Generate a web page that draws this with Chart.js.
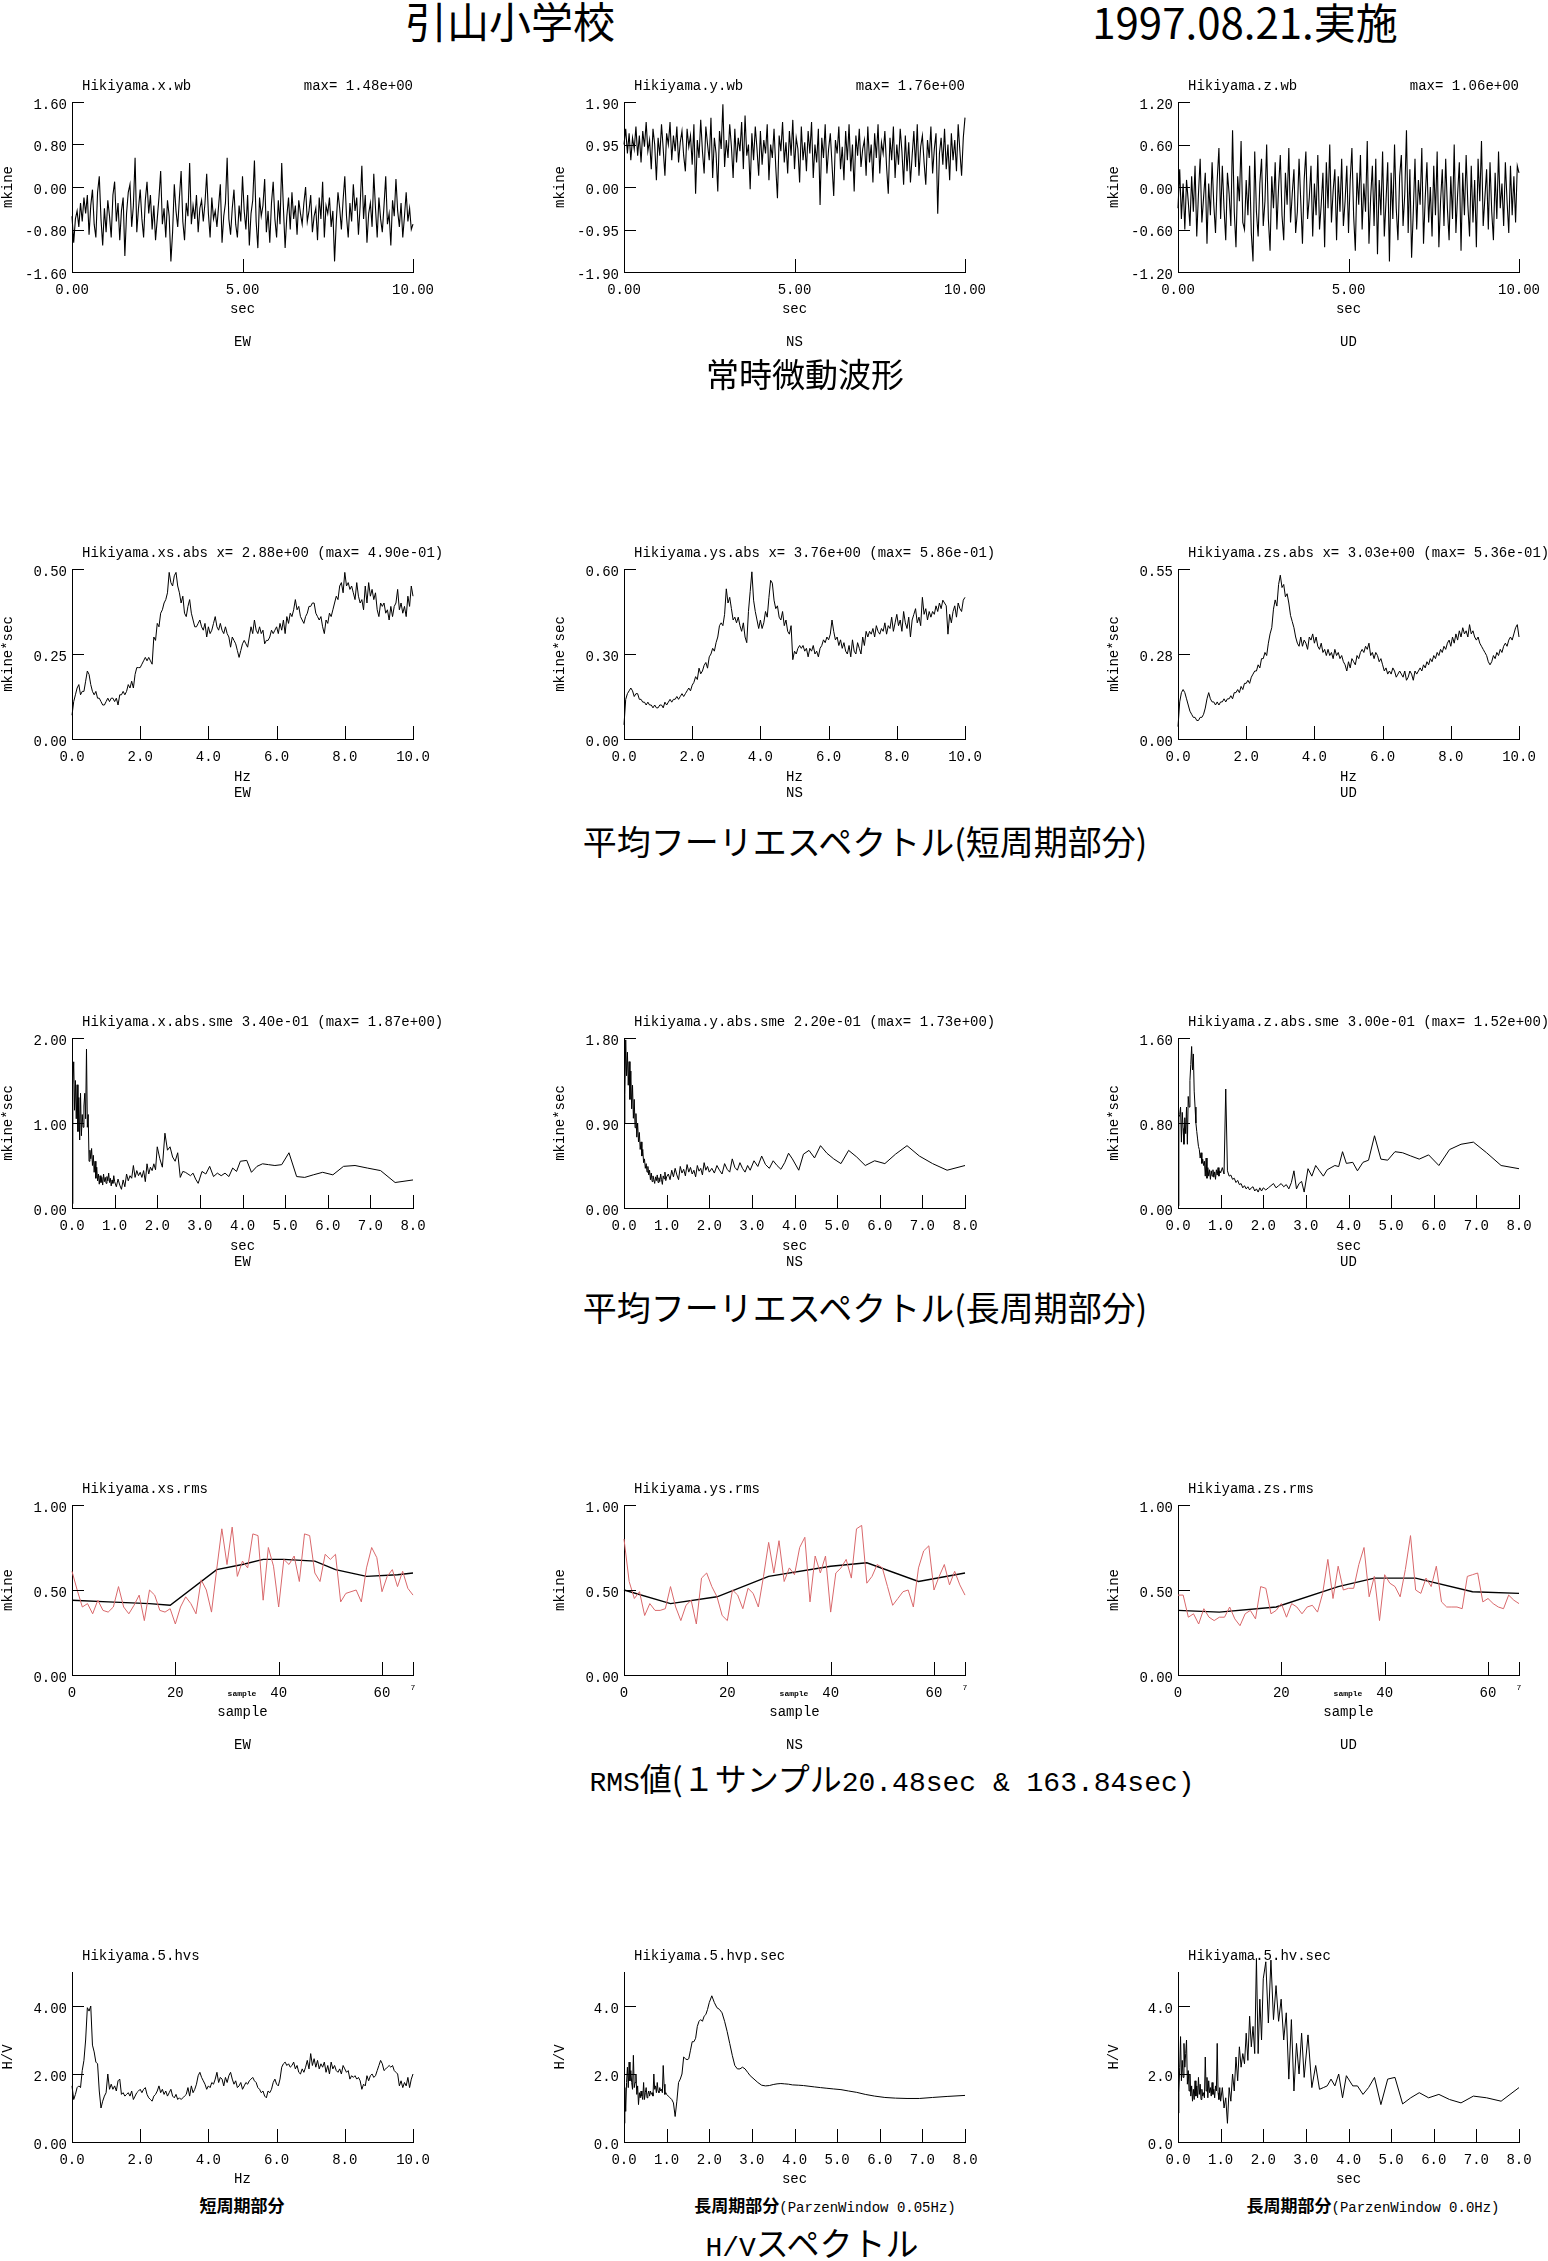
<!DOCTYPE html>
<html><head><meta charset="utf-8">
<script src="https://cdn.jsdelivr.net/npm/chart.js@4.4.1/dist/chart.umd.min.js"></script>
<style>
html,body{margin:0;padding:0;background:#fff;overflow:hidden;}
body{width:1548px;height:2261px;position:relative;}
canvas{position:absolute;}
.t{position:absolute;white-space:nowrap;color:#000;line-height:1;}
</style></head><body>
<script>
// ---------------- DATA ----------------
const WAVE_DT = 0.05;
const WAVE_EW = [
-0.55,-1.05,-0.60,-0.45,-0.75,-0.30,-0.65,-0.20,-0.50,-0.15,
-0.90,-0.35,-0.05,-0.70,-0.95,-0.10,0.20,-0.60,-1.10,-0.40,
-0.85,-0.25,-0.55,-0.95,-0.15,0.10,-0.65,-0.30,-1.00,-0.45,
-0.20,-1.30,-0.50,-0.10,0.05,-0.75,-0.35,0.55,-0.85,-0.40,
-0.05,-0.60,-0.95,-0.25,0.10,-0.50,-0.15,-0.80,-0.35,-1.00,
-0.60,-0.20,0.30,-0.70,-0.40,-0.95,-0.25,-0.55,-1.40,-0.85,
0.05,-0.45,-0.75,-0.20,0.30,-0.65,-1.00,-0.30,-0.55,0.45,
-0.70,-0.35,-0.60,-0.15,-0.85,-0.40,-0.25,-0.65,-0.30,0.25,
-0.50,-0.95,-0.20,-0.60,-0.45,-0.75,-0.35,0.05,-1.05,-0.55,
-0.30,0.55,-0.60,-0.90,-0.40,-0.05,-0.70,-0.95,-0.35,-0.65,
0.20,-0.45,-0.80,-0.15,-1.10,-0.50,-0.25,0.50,-0.65,-1.15,
-0.20,-0.55,-0.35,0.15,-0.85,-0.45,-1.05,-0.30,0.10,-0.60,
-0.95,-0.25,-0.70,0.45,-0.40,-1.15,-0.55,-0.20,-0.80,-0.10,
-0.60,-0.35,-0.90,-0.25,-0.50,-0.70,-0.30,0.00,-0.65,-0.45,
-0.15,-0.85,-0.55,-0.40,-1.00,-0.20,-0.60,0.10,-0.95,-0.35,
-0.50,-0.20,-0.75,-0.45,-1.40,-0.65,-0.10,-0.40,-0.80,-0.25,
0.20,-0.55,-0.95,-0.30,-0.65,0.05,-0.45,-0.20,-0.90,-0.35,
0.40,-0.60,-0.15,-1.05,-0.50,-0.30,-0.75,0.25,-0.40,-0.95,
-0.20,-0.60,-0.85,-0.35,0.20,-0.70,-0.50,-1.10,-0.25,-0.55,
0.15,-0.45,-0.75,-0.30,-0.95,-0.55,-0.10,-0.65,-0.40,-0.80,
-0.70];
const WAVE_NS = [
0.95,1.30,0.75,1.20,0.60,1.10,0.85,1.35,0.70,1.15,
0.55,1.25,0.90,1.45,0.80,1.05,0.40,1.30,0.95,0.15,
1.10,0.70,1.40,0.85,0.25,1.20,0.95,1.45,0.60,1.15,
0.80,1.35,0.55,1.00,1.25,0.70,0.35,1.30,0.90,1.15,
0.50,1.40,-0.15,1.05,0.65,1.50,0.80,0.30,1.35,0.95,
0.60,1.55,0.20,1.10,0.75,-0.10,1.25,0.85,1.85,0.45,
1.05,0.65,1.40,0.90,0.20,1.30,0.55,1.10,0.80,1.45,
0.40,1.60,0.70,0.95,-0.05,1.20,0.60,1.35,0.85,0.25,
1.25,0.50,1.05,0.75,1.40,0.15,0.95,0.65,1.30,0.45,
-0.25,1.15,0.80,1.45,0.55,1.00,0.30,1.25,0.70,1.50,
0.40,1.10,0.85,0.10,1.35,0.60,1.00,0.35,1.25,0.75,
1.45,0.20,0.95,0.55,1.30,-0.40,1.10,0.65,1.40,0.30,
0.85,1.20,0.50,-0.20,1.05,0.75,1.35,0.40,0.90,0.15,
1.25,0.60,1.40,0.35,0.95,-0.10,1.15,0.70,1.30,0.45,
0.85,1.05,0.25,1.35,0.55,0.95,0.10,1.20,0.65,1.40,
0.30,1.00,0.75,1.25,0.45,-0.15,1.10,0.60,1.35,0.20,
0.95,0.50,1.30,0.80,0.05,1.15,0.35,1.00,0.10,0.70,
1.25,0.45,1.40,0.25,0.90,1.15,0.55,0.05,1.05,0.65,
1.35,0.30,0.85,1.20,-0.60,0.75,1.10,0.50,1.30,0.40,
0.95,0.15,1.20,0.60,1.05,0.35,1.40,0.80,0.25,1.10,
1.55];
const WAVE_UD = [
-0.30,0.25,-0.45,0.05,-0.60,0.10,-0.20,-0.55,0.15,-0.35,
0.30,-0.70,-0.10,0.40,-0.50,-0.15,0.20,-0.80,0.05,-0.40,
0.35,-0.25,-0.65,0.10,0.55,-0.45,0.30,-0.30,-0.75,0.20,
-0.10,-0.55,0.80,-0.35,-0.85,0.15,-0.20,0.65,-0.50,-0.60,
0.10,-0.40,0.30,-0.65,-1.05,0.50,-0.35,-0.70,0.05,0.40,
-0.55,-0.20,0.60,-0.45,-0.90,0.15,-0.30,0.35,-0.60,0.00,
0.45,-0.40,-0.75,0.20,-0.25,0.55,-0.50,-0.10,0.25,-0.65,
-0.35,0.40,-0.20,-0.80,0.10,0.50,-0.45,-0.15,0.30,-0.70,
0.05,-0.40,0.45,-0.60,-0.25,0.20,-0.85,0.35,-0.30,0.60,
-0.50,-0.05,0.25,-0.75,0.15,-0.35,0.40,-0.55,-0.20,0.30,
-0.65,0.10,0.55,-0.40,-0.90,0.20,-0.25,0.45,-0.60,0.05,
-0.35,0.65,-0.80,-0.15,0.30,-0.55,0.40,-0.95,0.10,-0.40,
0.50,-0.70,-0.20,0.35,-1.05,0.20,-0.45,0.60,-0.30,-0.75,
0.15,0.45,-0.55,-0.10,0.80,-0.65,0.25,-1.00,-0.35,0.40,
-0.60,0.10,-0.25,0.55,-0.80,-0.15,0.35,-0.50,0.00,-0.70,
0.30,-0.40,0.50,-0.85,-0.20,0.25,-0.55,0.40,-0.30,-0.75,
0.15,-0.45,0.60,-0.65,-0.10,0.35,-0.90,0.20,-0.40,0.45,
-0.25,-0.70,0.30,-0.50,0.10,-0.85,0.40,-0.20,0.65,-0.55,
-0.15,0.25,-0.60,0.35,-0.35,-0.75,0.20,-0.45,0.50,-0.30,
0.05,-0.55,0.35,-0.20,-0.65,0.30,-0.40,0.15,-0.50,0.30,
0.20];

const SPEC_DF = 0.05;
const SPEC_EW = [
0.07,0.11,0.13,0.15,0.16,0.13,0.14,0.14,0.17,0.20,
0.19,0.16,0.14,0.13,0.14,0.12,0.12,0.11,0.10,0.10,
0.11,0.12,0.11,0.12,0.12,0.11,0.12,0.10,0.13,0.13,
0.14,0.13,0.14,0.16,0.15,0.17,0.15,0.19,0.21,0.21,
0.21,0.22,0.23,0.24,0.23,0.24,0.23,0.22,0.30,0.29,
0.34,0.33,0.37,0.38,0.40,0.41,0.43,0.49,0.46,0.45,
0.48,0.49,0.45,0.43,0.40,0.42,0.37,0.36,0.39,0.41,
0.37,0.35,0.33,0.33,0.34,0.35,0.33,0.32,0.34,0.30,
0.33,0.31,0.32,0.34,0.36,0.33,0.32,0.34,0.32,0.31,
0.33,0.31,0.30,0.27,0.30,0.29,0.28,0.26,0.24,0.26,
0.28,0.29,0.28,0.27,0.30,0.33,0.31,0.35,0.32,0.31,
0.33,0.31,0.32,0.28,0.29,0.29,0.30,0.32,0.31,0.32,
0.33,0.31,0.34,0.32,0.35,0.31,0.36,0.34,0.37,0.36,
0.38,0.41,0.38,0.39,0.36,0.35,0.34,0.36,0.37,0.39,
0.39,0.40,0.40,0.37,0.36,0.35,0.36,0.33,0.31,0.35,
0.34,0.37,0.36,0.38,0.40,0.42,0.41,0.45,0.46,0.43,
0.49,0.45,0.46,0.44,0.45,0.43,0.41,0.46,0.42,0.40,
0.41,0.38,0.45,0.40,0.46,0.42,0.44,0.41,0.43,0.38,
0.36,0.40,0.39,0.40,0.37,0.38,0.35,0.39,0.36,0.39,
0.40,0.44,0.38,0.40,0.37,0.39,0.36,0.42,0.39,0.45,
0.42];
const SPEC_NS = [
0.05,0.14,0.16,0.17,0.18,0.17,0.15,0.16,0.16,0.14,
0.14,0.13,0.13,0.12,0.13,0.12,0.12,0.11,0.12,0.11,
0.11,0.12,0.12,0.11,0.13,0.12,0.13,0.14,0.13,0.14,
0.14,0.15,0.14,0.15,0.16,0.15,0.16,0.17,0.18,0.17,
0.19,0.20,0.22,0.21,0.25,0.23,0.24,0.26,0.27,0.25,
0.29,0.30,0.32,0.31,0.34,0.36,0.40,0.41,0.40,0.44,
0.53,0.48,0.50,0.46,0.42,0.43,0.41,0.43,0.40,0.38,
0.41,0.36,0.34,0.45,0.52,0.59,0.49,0.45,0.42,0.39,
0.42,0.39,0.41,0.45,0.43,0.50,0.56,0.55,0.49,0.46,
0.47,0.43,0.42,0.45,0.40,0.42,0.38,0.37,0.40,0.28,
0.31,0.30,0.32,0.33,0.32,0.33,0.31,0.32,0.29,0.32,
0.31,0.33,0.30,0.31,0.29,0.32,0.33,0.35,0.34,0.36,
0.35,0.37,0.42,0.38,0.35,0.36,0.33,0.35,0.32,0.34,
0.31,0.30,0.33,0.29,0.35,0.31,0.30,0.34,0.32,0.30,
0.36,0.33,0.38,0.36,0.38,0.37,0.39,0.36,0.40,0.38,
0.37,0.39,0.38,0.41,0.37,0.40,0.39,0.43,0.38,0.41,
0.44,0.40,0.42,0.38,0.45,0.41,0.39,0.43,0.36,0.42,
0.44,0.46,0.41,0.43,0.40,0.50,0.44,0.46,0.42,0.45,
0.43,0.45,0.44,0.47,0.45,0.48,0.46,0.49,0.48,0.47,
0.37,0.44,0.41,0.45,0.47,0.43,0.48,0.46,0.45,0.49,
0.50];
const SPEC_UD = [
0.04,0.12,0.15,0.16,0.15,0.13,0.11,0.09,0.08,0.07,
0.07,0.06,0.06,0.07,0.07,0.08,0.10,0.13,0.15,0.13,
0.12,0.12,0.11,0.12,0.11,0.12,0.12,0.13,0.12,0.13,
0.13,0.14,0.13,0.15,0.15,0.16,0.15,0.17,0.16,0.18,
0.18,0.19,0.18,0.20,0.21,0.22,0.22,0.24,0.23,0.26,
0.26,0.28,0.27,0.31,0.34,0.36,0.42,0.45,0.43,0.50,
0.53,0.49,0.50,0.46,0.47,0.44,0.40,0.38,0.36,0.33,
0.31,0.30,0.33,0.30,0.32,0.31,0.29,0.33,0.32,0.34,
0.31,0.33,0.30,0.29,0.31,0.28,0.29,0.27,0.29,0.27,
0.28,0.26,0.29,0.27,0.28,0.26,0.27,0.25,0.24,0.22,
0.25,0.23,0.26,0.25,0.24,0.27,0.26,0.28,0.29,0.28,
0.30,0.29,0.31,0.27,0.28,0.26,0.28,0.27,0.25,0.26,
0.24,0.22,0.23,0.21,0.22,0.21,0.23,0.22,0.20,0.21,
0.22,0.21,0.20,0.22,0.19,0.20,0.22,0.21,0.19,0.22,
0.21,0.22,0.23,0.22,0.24,0.23,0.25,0.24,0.26,0.25,
0.27,0.26,0.28,0.27,0.29,0.28,0.30,0.29,0.31,0.32,
0.30,0.33,0.31,0.34,0.32,0.35,0.33,0.36,0.34,0.35,
0.33,0.37,0.34,0.35,0.33,0.32,0.33,0.31,0.30,0.29,
0.28,0.27,0.25,0.24,0.25,0.27,0.26,0.28,0.27,0.29,
0.28,0.30,0.31,0.30,0.32,0.33,0.32,0.34,0.36,0.37,
0.33];

const PERIOD_GRID = [0.01,
0.02,0.04,0.06,0.08,0.10,0.12,0.14,0.16,0.18,0.20,
0.22,0.24,0.26,0.28,0.30,0.32,0.34,0.36,0.38,0.40,
0.42,0.44,0.46,0.48,0.50,0.52,0.54,0.56,0.58,0.60,
0.62,0.64,0.66,0.68,0.70,0.72,0.74,0.76,0.78,0.80,
0.82,0.84,0.86,0.88,0.90,0.92,0.94,0.96,0.98,1.00,
1.04,1.08,1.12,1.16,1.20,1.24,1.28,1.32,1.36,1.40,1.44,1.48,1.52,1.56,1.60,1.64,1.68,1.72,1.76,1.80,1.84,1.88,1.92,1.96,2.00,
2.06,2.12,2.18,2.24,2.30,2.36,2.42,2.48,2.54,2.60,2.66,2.72,2.78,2.84,2.90,2.96,
3.05,3.14,3.23,3.32,3.41,3.50,3.59,3.68,3.77,3.86,3.95,
4.10,4.21,4.34,4.47,4.61,4.76,4.92,5.09,5.27,5.46,5.66,5.88,6.12,6.37,6.64,6.93,7.24,7.58,8.00];
const LSPEC_EW = [0.05,
1.45,1.72,1.15,1.50,1.05,1.45,0.90,1.30,0.80,1.35,
0.85,1.10,0.95,1.20,1.35,1.05,1.87,0.95,1.10,0.55,
0.68,0.58,0.70,0.50,0.62,0.42,0.55,0.35,0.48,0.32,
0.40,0.28,0.38,0.30,0.36,0.27,0.40,0.31,0.36,0.29,
0.37,0.32,0.41,0.30,0.35,0.26,0.33,0.29,0.38,0.31,
0.25,0.34,0.27,0.22,0.33,0.25,0.40,0.32,0.38,0.35,0.50,0.36,0.44,0.38,0.42,0.36,0.44,0.31,0.52,0.40,0.48,0.44,0.52,0.45,0.72,
0.58,0.48,0.88,0.68,0.72,0.60,0.55,0.65,0.36,0.43,0.42,0.40,0.38,0.41,0.34,0.29,
0.43,0.40,0.49,0.37,0.41,0.38,0.41,0.37,0.47,0.43,0.55,
0.56,0.42,0.49,0.52,0.51,0.50,0.51,0.65,0.37,0.36,0.39,0.42,0.39,0.49,0.50,0.47,0.44,0.30,0.33];
const LSPEC_NS = [0.90,
1.20,1.78,1.40,1.65,1.30,1.55,1.15,1.45,1.05,1.30,
0.95,1.15,0.85,1.00,0.75,0.90,0.70,0.80,0.62,0.70,
0.55,0.62,0.48,0.52,0.42,0.47,0.38,0.44,0.35,0.40,
0.30,0.37,0.28,0.34,0.30,0.26,0.33,0.29,0.35,0.27,
0.32,0.28,0.36,0.30,0.25,0.34,0.31,0.38,0.29,0.33,
0.36,0.30,0.40,0.33,0.42,0.35,0.30,0.44,0.37,0.41,0.34,0.46,0.38,0.43,0.36,0.40,0.33,0.45,0.39,0.42,0.35,0.48,0.40,0.44,0.38,
0.42,0.37,0.45,0.40,0.36,0.47,0.41,0.38,0.52,0.43,0.40,0.48,0.42,0.38,0.45,0.40,
0.50,0.44,0.55,0.46,0.42,0.50,0.45,0.41,0.48,0.58,0.52,
0.40,0.57,0.61,0.53,0.66,0.58,0.52,0.47,0.61,0.54,0.45,0.50,0.47,0.57,0.66,0.55,0.47,0.40,0.45];
const LSPEC_UD = [0.02,
0.85,0.88,0.95,0.62,0.90,0.75,0.60,0.85,0.70,0.95,
0.60,1.05,0.95,1.20,1.35,1.52,1.30,1.45,1.10,0.95,
0.80,0.72,0.65,0.58,0.55,0.47,0.52,0.42,0.46,0.40,
0.44,0.30,0.47,0.28,0.38,0.30,0.36,0.27,0.35,0.30,
0.36,0.29,0.34,0.27,0.36,0.31,0.38,0.30,0.35,0.33,
0.38,0.32,1.12,0.35,0.30,0.31,0.27,0.28,0.24,0.26,0.22,0.23,0.19,0.21,0.18,0.20,0.17,0.19,0.20,0.16,0.18,0.15,0.19,0.16,0.19,
0.17,0.19,0.21,0.23,0.19,0.21,0.23,0.20,0.22,0.18,0.24,0.35,0.18,0.23,0.25,0.15,
0.37,0.30,0.40,0.35,0.30,0.36,0.38,0.40,0.39,0.53,0.42,
0.43,0.35,0.43,0.45,0.68,0.46,0.45,0.53,0.52,0.49,0.46,0.50,0.40,0.55,0.60,0.62,0.52,0.40,0.37];

const RMS_EW = [0.61,0.50,0.40,0.42,0.36,0.44,0.38,0.37,0.40,0.52,
0.40,0.36,0.41,0.47,0.32,0.50,0.47,0.38,0.37,0.39,
0.30,0.40,0.46,0.42,0.36,0.56,0.50,0.37,0.62,0.86,
0.65,0.87,0.58,0.67,0.63,0.83,0.82,0.44,0.75,0.64,
0.40,0.68,0.65,0.70,0.55,0.83,0.82,0.60,0.55,0.71,
0.68,0.71,0.43,0.48,0.49,0.50,0.43,0.63,0.75,0.69,
0.49,0.58,0.62,0.52,0.61,0.51,0.47];
const RMS_NS = [0.80,0.55,0.45,0.49,0.35,0.42,0.38,0.38,0.39,0.52,
0.40,0.32,0.41,0.44,0.30,0.57,0.60,0.52,0.46,0.35,
0.32,0.50,0.47,0.39,0.51,0.48,0.40,0.58,0.78,0.60,
0.79,0.55,0.63,0.59,0.75,0.81,0.43,0.70,0.60,0.70,
0.37,0.60,0.63,0.68,0.57,0.86,0.88,0.54,0.58,0.65,
0.63,0.52,0.41,0.45,0.49,0.50,0.40,0.63,0.73,0.76,
0.50,0.58,0.65,0.53,0.61,0.53,0.47];
const RMS_UD = [0.47,0.47,0.34,0.36,0.30,0.39,0.34,0.32,0.34,0.34,
0.40,0.33,0.29,0.36,0.38,0.33,0.52,0.51,0.36,0.38,
0.42,0.34,0.42,0.40,0.36,0.40,0.41,0.37,0.48,0.68,
0.45,0.64,0.50,0.51,0.51,0.65,0.75,0.46,0.58,0.32,
0.59,0.54,0.52,0.46,0.62,0.82,0.50,0.48,0.57,0.52,
0.64,0.43,0.40,0.40,0.40,0.39,0.58,0.59,0.60,0.43,
0.45,0.42,0.40,0.39,0.47,0.44,0.42];
const RMSL_EW_X = [0,7,15,19,28,33,37,41,47,51,57,63,66];
const RMSL_EW_Y = [0.44,0.43,0.42,0.41,0.62,0.65,0.68,0.68,0.67,0.62,0.58,0.59,0.60];
const RMSL_NS_X = [0,9,18,28,40,47,57,66];
const RMSL_NS_Y = [0.50,0.42,0.46,0.58,0.64,0.66,0.55,0.60];
const RMSL_UD_X = [0,8,19,31,38,46,57,66];
const RMSL_UD_Y = [0.38,0.37,0.40,0.52,0.57,0.57,0.49,0.48];

const HVS = [
1.65,1.25,1.40,1.60,1.65,1.60,2.10,2.40,3.00,3.95,
3.85,4.00,2.85,2.65,2.35,2.30,1.50,1.00,1.20,1.35,
1.45,2.00,1.55,1.70,1.55,1.65,1.50,1.80,1.85,1.40,
1.45,1.35,1.40,1.45,1.35,1.50,1.25,1.35,1.45,1.50,
1.55,1.45,1.55,1.60,1.40,1.30,1.25,1.20,1.35,1.40,
1.50,1.65,1.45,1.55,1.40,1.50,1.35,1.45,1.55,1.35,
1.30,1.40,1.25,1.30,1.25,1.30,1.35,1.40,1.60,1.35,
1.65,1.45,1.55,1.70,1.95,2.05,1.90,1.80,1.70,1.55,
1.65,1.60,1.75,1.70,1.85,2.05,1.75,1.90,1.85,1.65,
1.90,1.75,1.95,2.05,1.85,1.70,1.80,1.60,1.65,1.75,
1.55,1.65,1.75,1.70,1.80,1.85,1.90,1.80,1.75,1.60,
1.55,1.45,1.50,1.35,1.30,1.50,1.45,1.55,1.75,1.85,
1.70,1.65,1.85,2.20,2.30,2.35,2.25,2.30,2.20,2.25,
2.35,2.15,2.25,2.05,2.00,2.15,2.05,2.20,2.40,2.15,
2.60,2.25,2.45,2.20,2.40,2.15,2.30,2.20,2.35,2.05,
2.25,2.00,2.35,2.15,2.25,2.10,2.05,2.15,2.00,2.25,
2.15,2.05,2.10,1.85,1.95,1.90,1.95,1.85,1.90,1.80,
1.55,1.70,1.65,1.95,1.80,1.95,2.00,1.90,1.95,2.10,
2.25,2.40,2.30,2.10,2.15,2.20,2.25,2.20,2.25,2.10,
2.05,2.00,1.65,1.80,1.60,1.75,1.65,1.90,1.60,1.85,
2.00];
const HVP_SEC = [0.55,
1.60,0.90,1.75,2.20,1.60,2.35,1.80,2.10,1.75,1.55,
2.55,1.60,1.75,2.00,1.40,1.65,1.10,1.45,1.30,1.50,
1.35,1.25,1.75,1.25,1.45,1.60,1.30,1.40,1.50,1.35,
1.50,1.40,1.45,1.35,2.00,1.55,1.65,1.45,1.75,1.50,
1.45,1.60,1.50,1.55,1.45,2.25,1.70,1.40,1.45,1.40,
1.35,1.30,1.25,1.15,0.75,1.20,1.75,1.85,2.00,2.50,2.45,2.42,2.45,2.70,2.95,2.95,3.05,3.40,3.55,3.60,3.55,3.70,3.75,3.90,4.10,
4.30,4.10,3.95,3.90,3.80,3.55,3.25,2.90,2.55,2.25,2.15,2.15,2.20,2.15,2.05,1.95,
1.85,1.75,1.67,1.65,1.66,1.69,1.71,1.72,1.71,1.70,1.68,
1.67,1.66,1.64,1.62,1.60,1.58,1.56,1.54,1.50,1.46,1.40,1.35,1.31,1.29,1.28,1.28,1.31,1.34,1.37];
const HV_SEC = [0.85,
1.45,2.20,3.10,1.80,2.40,1.90,2.90,2.20,2.60,3.00,
1.70,2.10,1.50,2.00,1.35,1.65,1.20,1.55,1.25,1.80,
1.35,1.65,1.30,1.90,1.40,1.70,1.25,1.55,1.35,1.45,
1.30,2.50,1.50,1.90,1.30,1.80,1.45,1.60,1.35,1.75,
1.40,1.55,1.30,1.65,1.50,2.90,1.45,1.25,1.60,1.20,
1.60,1.00,1.30,0.55,1.60,1.20,2.00,1.50,2.50,1.80,2.80,2.20,2.60,2.30,3.20,2.40,3.70,2.80,3.40,2.60,5.40,2.60,4.20,3.00,4.80,
5.30,3.50,5.35,3.60,4.60,3.55,4.20,3.00,3.80,1.85,3.60,1.50,2.90,2.00,3.20,1.90,
3.15,1.60,2.25,1.55,1.60,1.65,1.85,1.65,2.00,1.30,1.95,
1.65,1.65,1.40,1.60,1.90,1.10,1.85,1.90,1.12,1.30,1.45,1.30,1.40,1.25,1.15,1.35,1.30,1.20,1.60];

// tick values and labels
const WAVE_XT = [0,5,10], WAVE_XL = ['0.00','5.00','10.00'];
const WAVE_EW_YT = [-1.6,-0.8,0,0.8,1.6], WAVE_EW_YL = ['-1.60','-0.80','0.00','0.80','1.60'];
const WAVE_NS_YT = [-1.9,-0.95,0,0.95,1.9], WAVE_NS_YL = ['-1.90','-0.95','0.00','0.95','1.90'];
const WAVE_UD_YT = [-1.2,-0.6,0,0.6,1.2], WAVE_UD_YL = ['-1.20','-0.60','0.00','0.60','1.20'];
const HZ_XT = [0,2,4,6,8,10], HZ_XL = ['0.0','2.0','4.0','6.0','8.0','10.0'];
const SPEC_EW_YT = [0,0.25,0.5], SPEC_EW_YL = ['0.00','0.25','0.50'];
const SPEC_NS_YT = [0,0.3,0.6], SPEC_NS_YL = ['0.00','0.30','0.60'];
const SPEC_UD_YT = [0,0.275,0.55], SPEC_UD_YL = ['0.00','0.28','0.55'];
const SEC_XT = [0,1,2,3,4,5,6,7,8], SEC_XL = ['0.0','1.0','2.0','3.0','4.0','5.0','6.0','7.0','8.0'];
const LSPEC_EW_YT = [0,1,2], LSPEC_EW_YL = ['0.00','1.00','2.00'];
const LSPEC_NS_YT = [0,0.9,1.8], LSPEC_NS_YL = ['0.00','0.90','1.80'];
const LSPEC_UD_YT = [0,0.8,1.6], LSPEC_UD_YL = ['0.00','0.80','1.60'];
const RMS_XT = [0,20,40,60,66], RMS_XL = ['0','20','40','60',''];
const RMS_YT = [0,0.5,1], RMS_YL = ['0.00','0.50','1.00'];
const HV_YT = [0,2,4], HVS_YL = ['0.00','2.00','4.00'], HVL_YL = ['0.0','2.0','4.0'];

// ---------------- LAYOUT ----------------
const MONO = '"Liberation Mono", "DejaVu Sans Mono", monospace';
const CJK = '"Noto Sans CJK JP", "Noto Sans CJK SC", sans-serif';
const COL_X = [72, 624, 1178];
const ROW_Y = [102, 569, 1038, 1505, 1972];
const PW = 341, PH = 170, YAXW = 72, PADT = 20, PADR = 50;
const RED = '#d9686b';

Chart.defaults.font.family = MONO;
Chart.defaults.font.size = 14;
Chart.defaults.color = '#000';

function gridPts(step, ys){ return ys.map((v,i)=>({x: Math.round(i*step*1000)/1000, y: v})); }
function xyPts(xs, ys){ const n=Math.min(xs.length, ys.length), o=[]; for(let i=0;i<n;i++) o.push({x:xs[i], y:ys[i]}); return o; }
function ln(data, color, width){ return {data, borderColor:color, borderWidth:width, pointRadius:0, tension:0, fill:false, clip:false}; }

const inwardTicks = {
  id: 'inwardTicks',
  afterDraw(chart){
    const {ctx, chartArea:a, scales:{x, y}} = chart;
    ctx.save(); ctx.strokeStyle = '#000'; ctx.lineWidth = 1; ctx.beginPath();
    for (const t of y.ticks){ if (t.value === y.min) continue; const p = Math.round(y.getPixelForValue(t.value)) + 0.5; ctx.moveTo(a.left, p); ctx.lineTo(a.left + 12, p); }
    for (const t of x.ticks){ if (t.value === x.min) continue; const p = Math.round(x.getPixelForValue(t.value)) + 0.5; ctx.moveTo(p, a.bottom); ctx.lineTo(p, a.bottom - 13); }
    ctx.stroke(); ctx.restore();
  }
};

function panel(p){
  const px = COL_X[p.c], py = ROW_Y[p.r];
  const H = 36 + 8.4 + 16.8 * (p.xtitle.length - 1) + 1;
  const W = YAXW + PW + PADR, HT = Math.ceil(PADT + PH + H);
  const cv = document.createElement('canvas');
  cv.width = W; cv.height = HT;
  Object.assign(cv.style, {left:(px - YAXW)+'px', top:(py - PADT)+'px', width:W+'px', height:HT+'px'});
  document.body.appendChild(cv);
  const xH = HT - PADT - PH;
  new Chart(cv, {
    type: 'line',
    data: {datasets: p.ds},
    options: {
      responsive:false, animation:false, devicePixelRatio:1,
      layout:{padding:{top:PADT, right:PADR, left:0, bottom:0}},
      plugins:{legend:{display:false}, tooltip:{enabled:false}, title:{display:false}},
      scales:{
        x:{type:'linear', position:'bottom', min:p.xmin, max:p.xmax,
           afterBuildTicks:s=>{ s.ticks = p.xt.map(v=>({value:v})); },
           ticks:{callback:(v,i)=>p.xl[i], autoSkip:false, maxRotation:0, padding:10, color:'#000', font:{size:14}},
           grid:{display:false, drawTicks:false}, border:{display:true, color:'#000', width:1},
           title:{display:true, text:p.xtitle, color:'#000', font:{size:14}, padding:{top:0,bottom:0}},
           afterFit:s=>{ s.height = xH; }},
        y:{type:'linear', position:'left', min:p.ymin, max:p.ymax,
           afterBuildTicks:s=>{ s.ticks = p.yt.map(v=>({value:v})); },
           ticks:{callback:(v,i)=>p.yl[i], autoSkip:false, padding:5, labelOffset:3, color:'#000', font:{size:14}},
           grid:{display:false, drawTicks:false}, border:{display:true, color:'#000', width:1},
           title:{display:true, text:p.ytitle, color:'#000', font:{size:14}, padding:{top:0,bottom:0}},
           afterFit:s=>{ s.width = YAXW; }}
      }
    },
    plugins:[inwardTicks]
  });
  txt(p.title, px + 10, py - 16, `14px ${MONO}`, 0);
  if (p.right) txt(p.right, px + PW, py - 16, `14px ${MONO}`, -100);
}

function txt(str, x, y, font, ax, weight){
  const d = document.createElement('div'); d.className = 't'; d.textContent = str;
  Object.assign(d.style, {left:x+'px', top:y+'px', font:font, transform:`translate(${ax}%,-50%)`});
  if (weight) d.style.fontWeight = weight;
  document.body.appendChild(d); return d;
}
function cap(parts, x, y){
  const d = document.createElement('div'); d.className = 't';
  for (const [s, f, w] of parts){ const sp = document.createElement('span'); sp.textContent = s; sp.style.font = f; if (w) sp.style.fontWeight = w; d.appendChild(sp); }
  Object.assign(d.style, {left:x+'px', top:y+'px', transform:'translate(-50%,-50%)'});
  document.body.appendChild(d);
}

const BK = '#000';
const PANELS = [
 {c:0,r:0,title:'Hikiyama.x.wb',right:'max= 1.48e+00',ytitle:'mkine',xtitle:['sec','','EW'],xmin:0,xmax:10,xt:WAVE_XT,xl:WAVE_XL,ymin:-1.6,ymax:1.6,yt:WAVE_EW_YT,yl:WAVE_EW_YL,ds:[ln(gridPts(WAVE_DT,WAVE_EW),BK,1.1)]},
 {c:1,r:0,title:'Hikiyama.y.wb',right:'max= 1.76e+00',ytitle:'mkine',xtitle:['sec','','NS'],xmin:0,xmax:10,xt:WAVE_XT,xl:WAVE_XL,ymin:-1.9,ymax:1.9,yt:WAVE_NS_YT,yl:WAVE_NS_YL,ds:[ln(gridPts(WAVE_DT,WAVE_NS),BK,1.1)]},
 {c:2,r:0,title:'Hikiyama.z.wb',right:'max= 1.06e+00',ytitle:'mkine',xtitle:['sec','','UD'],xmin:0,xmax:10,xt:WAVE_XT,xl:WAVE_XL,ymin:-1.2,ymax:1.2,yt:WAVE_UD_YT,yl:WAVE_UD_YL,ds:[ln(gridPts(WAVE_DT,WAVE_UD),BK,1.1)]},
 {c:0,r:1,title:'Hikiyama.xs.abs x= 2.88e+00 (max= 4.90e-01)',ytitle:'mkine*sec',xtitle:['Hz','EW'],xmin:0,xmax:10,xt:HZ_XT,xl:HZ_XL,ymin:0,ymax:0.5,yt:SPEC_EW_YT,yl:SPEC_EW_YL,ds:[ln(gridPts(SPEC_DF,SPEC_EW),BK,1)]},
 {c:1,r:1,title:'Hikiyama.ys.abs x= 3.76e+00 (max= 5.86e-01)',ytitle:'mkine*sec',xtitle:['Hz','NS'],xmin:0,xmax:10,xt:HZ_XT,xl:HZ_XL,ymin:0,ymax:0.6,yt:SPEC_NS_YT,yl:SPEC_NS_YL,ds:[ln(gridPts(SPEC_DF,SPEC_NS),BK,1)]},
 {c:2,r:1,title:'Hikiyama.zs.abs x= 3.03e+00 (max= 5.36e-01)',ytitle:'mkine*sec',xtitle:['Hz','UD'],xmin:0,xmax:10,xt:HZ_XT,xl:HZ_XL,ymin:0,ymax:0.55,yt:SPEC_UD_YT,yl:SPEC_UD_YL,ds:[ln(gridPts(SPEC_DF,SPEC_UD),BK,1)]},
 {c:0,r:2,title:'Hikiyama.x.abs.sme 3.40e-01 (max= 1.87e+00)',ytitle:'mkine*sec',xtitle:['sec','EW'],xmin:0,xmax:8,xt:SEC_XT,xl:SEC_XL,ymin:0,ymax:2,yt:LSPEC_EW_YT,yl:LSPEC_EW_YL,ds:[ln(xyPts(PERIOD_GRID,LSPEC_EW),BK,1)]},
 {c:1,r:2,title:'Hikiyama.y.abs.sme 2.20e-01 (max= 1.73e+00)',ytitle:'mkine*sec',xtitle:['sec','NS'],xmin:0,xmax:8,xt:SEC_XT,xl:SEC_XL,ymin:0,ymax:1.8,yt:LSPEC_NS_YT,yl:LSPEC_NS_YL,ds:[ln(xyPts(PERIOD_GRID,LSPEC_NS),BK,1)]},
 {c:2,r:2,title:'Hikiyama.z.abs.sme 3.00e-01 (max= 1.52e+00)',ytitle:'mkine*sec',xtitle:['sec','UD'],xmin:0,xmax:8,xt:SEC_XT,xl:SEC_XL,ymin:0,ymax:1.6,yt:LSPEC_UD_YT,yl:LSPEC_UD_YL,ds:[ln(xyPts(PERIOD_GRID,LSPEC_UD),BK,1)]},
 {c:0,r:3,title:'Hikiyama.xs.rms',ytitle:'mkine',xtitle:['sample','','EW'],xmin:0,xmax:66,xt:RMS_XT,xl:RMS_XL,ymin:0,ymax:1,yt:RMS_YT,yl:RMS_YL,ds:[ln(gridPts(1,RMS_EW),RED,1),ln(xyPts(RMSL_EW_X,RMSL_EW_Y),BK,1.4)]},
 {c:1,r:3,title:'Hikiyama.ys.rms',ytitle:'mkine',xtitle:['sample','','NS'],xmin:0,xmax:66,xt:RMS_XT,xl:RMS_XL,ymin:0,ymax:1,yt:RMS_YT,yl:RMS_YL,ds:[ln(gridPts(1,RMS_NS),RED,1),ln(xyPts(RMSL_NS_X,RMSL_NS_Y),BK,1.4)]},
 {c:2,r:3,title:'Hikiyama.zs.rms',ytitle:'mkine',xtitle:['sample','','UD'],xmin:0,xmax:66,xt:RMS_XT,xl:RMS_XL,ymin:0,ymax:1,yt:RMS_YT,yl:RMS_YL,ds:[ln(gridPts(1,RMS_UD),RED,1),ln(xyPts(RMSL_UD_X,RMSL_UD_Y),BK,1.4)]},
 {c:0,r:4,title:'Hikiyama.5.hvs',ytitle:'H/V',xtitle:['Hz'],xmin:0,xmax:10,xt:HZ_XT,xl:HZ_XL,ymin:0,ymax:5,yt:HV_YT,yl:HVS_YL,ds:[ln(gridPts(SPEC_DF,HVS),BK,1)]},
 {c:1,r:4,title:'Hikiyama.5.hvp.sec',ytitle:'H/V',xtitle:['sec'],xmin:0,xmax:8,xt:SEC_XT,xl:SEC_XL,ymin:0,ymax:5,yt:HV_YT,yl:HVL_YL,ds:[ln(xyPts(PERIOD_GRID,HVP_SEC),BK,1)]},
 {c:2,r:4,title:'Hikiyama.5.hv.sec',ytitle:'H/V',xtitle:['sec'],xmin:0,xmax:8,xt:SEC_XT,xl:SEC_XL,ymin:0,ymax:5,yt:HV_YT,yl:HVL_YL,ds:[ln(xyPts(PERIOD_GRID,HV_SEC),BK,1)]}
];
PANELS.forEach(panel);

for (let c = 0; c < 3; c++){
  txt('sample', COL_X[c] + 170, ROW_Y[3] + PH + 18, `bold 8px ${MONO}`, -50);
  txt('7', COL_X[c] + PW, ROW_Y[3] + PH + 12, `8px ${MONO}`, -50);
}
txt('短周期部分', COL_X[0] + 170, 2204, `bold 17px ${CJK}`, -50);
cap([['長周期部分', `bold 17px ${CJK}`], ['(ParzenWindow 0.05Hz)', `14px ${MONO}`]], 825, 2204);
cap([['長周期部分', `bold 17px ${CJK}`], ['(ParzenWindow 0.0Hz)', `14px ${MONO}`]], 1373, 2204);

cap([['引山小学校', `42px ${CJK}`]], 510, 19);
cap([['1997.08.21.実施', `42px ${CJK}`]], 1245, 20);
cap([['常時微動波形', `33px ${CJK}`]], 805, 373);
cap([['平均フーリエスペクトル(短周期部分)', `34px ${CJK}`]], 865, 840);
cap([['平均フーリエスペクトル(長周期部分)', `34px ${CJK}`]], 865, 1306);
cap([['RMS', `28px ${MONO}`], ['値(１サンプル', `32px ${CJK}`], ['20.48sec & 163.84sec)', `28px ${MONO}`]], 892, 1777);
cap([['H/V', `28px ${MONO}`], ['スペクトル', `33px ${CJK}`]], 812, 2242);
</script>
</body></html>
